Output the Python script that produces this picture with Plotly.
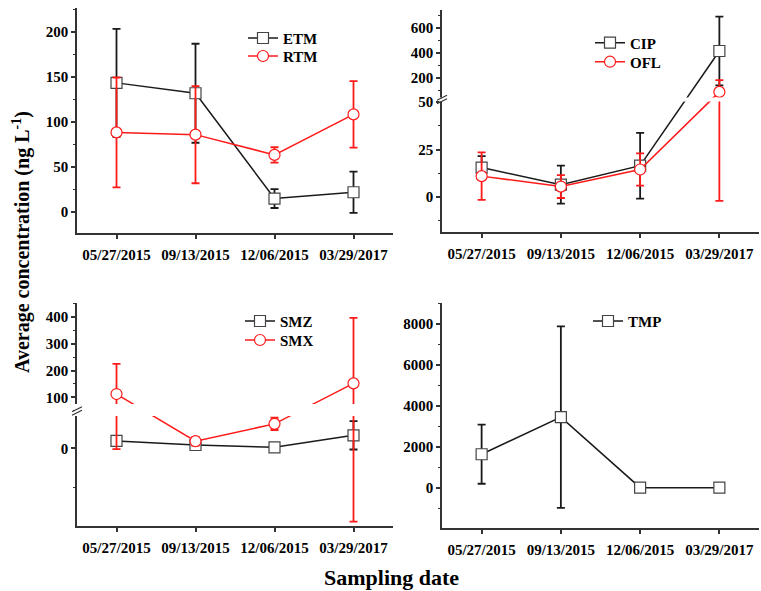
import plotly.graph_objects as go

# ---------------- data ----------------
dates = ["05/27/2015", "09/13/2015", "12/06/2015", "03/29/2017"]

etm = [143.5, 132, 15, 22]
etm_err = [60, 55, 10.5, 23]
rtm = [88.5, 86, 63.5, 108.5]
rtm_err = [61, 54, 8.5, 37]

cip = [15.5, 6.5, 16.5, 415]
cip_err = [6, 10, 17.3, 272]
ofl = [11, 5.5, 14.5, 91]
ofl_err = [12.5, 6, 8.5, 93]

smz = [9.3, 4.2, 1.3, 16.5]
smz_err = [4, 3, 3, 18]
smx = [112, 9, 31, 152]
smx_err = [113, 5.5, 7.8, 245]

tmp = [1630, 3440, 0, 0]
tmp_err = [1440, 4430, 120, 120]

# y-axis tick values (real units)
tl_ticks = [0, 50, 100, 150, 200]
tl_minor = [-12.5 * 0 + 25, 75, 125, 175, 225]
tr_ticks = [0, 25, 50, 200, 400, 600]
tr_minor = [-12.5, 12.5, 37.5, 100, 300, 500, 700]
bl_ticks = [0, 100, 200, 300, 400]
bl_minor = [-50, 50, 150, 250, 350, 450]
br_ticks = [0, 2000, 4000, 6000, 8000]
br_minor = [-1000, 1000, 3000, 5000, 7000, 9000]

# ---------------- broken-axis scales ----------------
# below the break the axis is linear; above it, compressed by factor k after a gap
TR_BRK, TR_GAP, TR_K = 50, 2.6, 0.0664
BL_BRK, BL_GAP, BL_K = 41, 3.8, 0.3388

def broken(v, brk, gap, k):
    return v if v <= brk else brk + gap + (v - brk) * k

def scaled(vals, errs, brk, gap, k):
    y = [broken(v, brk, gap, k) for v in vals]
    up = [broken(v + e, brk, gap, k) - broken(v, brk, gap, k) for v, e in zip(vals, errs)]
    dn = [broken(v, brk, gap, k) - broken(v - e, brk, gap, k) for v, e in zip(vals, errs)]
    return y, up, dn

# ---------------- layout helpers ----------------
W, H = 761, 591
def px(x):
    return x / W
def py(y):
    return 1 - y / H

BLACK = "#1a1a1a"
RED = "#ff1a1a"
AX = "#333333"
FONT = dict(family="Liberation Serif", size=15, color="black", weight="bold")

fig = go.Figure()

def add_series(x_id, y_id, y, up, dn, color, name, symbol, legend):
    fig.add_trace(go.Scatter(
        x=dates, y=y, name=name, mode="lines+markers",
        xaxis=x_id, yaxis=y_id,
        line=dict(color=color, width=1.5),
        marker=dict(symbol=symbol, size=11, color="white",
                    line=dict(color=("#444" if color == BLACK else color), width=1.2)),
        error_y=dict(type="data", symmetric=False, array=up, arrayminus=dn,
                     color=color, thickness=1.8, width=4),
        legend=legend, showlegend=True,
    ))

add_series("x", "y", etm, etm_err, etm_err, BLACK, "ETM", "square", "legend")
add_series("x", "y", rtm, rtm_err, rtm_err, RED, "RTM", "circle", "legend2")
add_series("x2", "y2", *scaled(cip, cip_err, TR_BRK, TR_GAP, TR_K), BLACK, "CIP", "square", "legend3")
add_series("x2", "y2", *scaled(ofl, ofl_err, TR_BRK, TR_GAP, TR_K), RED, "OFL", "circle", "legend4")
add_series("x3", "y3", *scaled(smz, smz_err, BL_BRK, BL_GAP, BL_K), BLACK, "SMZ", "square", "legend5")
add_series("x3", "y3", *scaled(smx, smx_err, BL_BRK, BL_GAP, BL_K), RED, "SMX", "circle", "legend6")
add_series("x4", "y4", tmp, tmp_err, tmp_err, BLACK, "TMP", "square", "legend7")

base = dict(showline=True, linecolor=AX, linewidth=1.5, ticks="outside",
            ticklen=4, tickwidth=1.5, tickcolor=AX, showgrid=False,
            zeroline=False, tickfont=FONT, automargin=False)
def minor(vals):
    return dict(ticks="outside", ticklen=2, tickwidth=1, tickcolor=AX,
                tickmode="array", tickvals=vals)

xbase = dict(base, type="category", range=[-0.5, 3.5], ticklabelstandoff=3)

L1, R1 = px(77), px(393)
L2, R2 = px(442), px(759)

tr = lambda v: broken(v, TR_BRK, TR_GAP, TR_K)
bl = lambda v: broken(v, BL_BRK, BL_GAP, BL_K)

fig.update_layout(
    template="none",
    width=W, height=H, margin=dict(l=0, r=0, t=0, b=0, pad=0),
    plot_bgcolor="white", paper_bgcolor="white", showlegend=True,
    xaxis=dict(xbase, domain=[L1, R1], anchor="y"),
    yaxis=dict(base, domain=[py(233), py(8)], range=[-23.3, 226.7],
               tickmode="array", tickvals=tl_ticks, anchor="x",
               minor=minor(tl_minor)),
    xaxis2=dict(xbase, domain=[L2, R2], anchor="y2"),
    yaxis2=dict(base, domain=[py(232), py(10)], range=[-18.4, tr(740)],
                tickmode="array", tickvals=[tr(v) for v in tr_ticks],
                ticktext=[str(v) for v in tr_ticks], anchor="x2",
                minor=minor([tr(v) for v in tr_minor])),
    xaxis3=dict(xbase, domain=[L1, R1], anchor="y3"),
    yaxis3=dict(base, domain=[py(526), py(303)], range=[-98.6, bl(453)],
                tickmode="array", tickvals=[bl(v) for v in bl_ticks],
                ticktext=[str(v) for v in bl_ticks], anchor="x3",
                minor=minor([bl(v) for v in bl_minor])),
    xaxis4=dict(xbase, domain=[L2, R2], anchor="y4"),
    yaxis4=dict(base, domain=[py(528), py(303)], range=[-1970, 9010],
                tickmode="array", tickvals=br_ticks, anchor="x4",
                minor=minor(br_minor)),
)

# one legend per entry so each sits where the reference shows it
leg = dict(xanchor="left", yanchor="top", bgcolor="rgba(0,0,0,0)", font=FONT,
           itemwidth=30, borderwidth=0)
legend_pos = {"legend": (243, 38), "legend2": (243, 56),
              "legend3": (590, 42.7), "legend4": (590, 61.7),
              "legend5": (240, 321), "legend6": (240, 340),
              "legend7": (588, 321)}
fig.update_layout({k: dict(leg, x=px(x), y=py(y - 16.25)) for k, (x, y) in legend_pos.items()})

# axis-break gaps and marks
shapes = [
    dict(type="rect", xref="paper", yref="y2", layer="above",
         x0=px(439), x1=px(761), y0=TR_BRK + 0.3, y1=TR_BRK + TR_GAP - 0.2,
         fillcolor="white", line=dict(width=0)),
    dict(type="rect", xref="paper", yref="paper", layer="above",
         x0=px(74), x1=px(400), y0=py(416), y1=py(404),
         fillcolor="white", line=dict(width=0)),
]
for (cx, cy) in [(442, 99.5), (77, 411)]:
    for dy in (-1.8, 1.8):
        shapes.append(dict(type="line", xref="paper", yref="paper", layer="above",
                           x0=px(cx - 5), y0=py(cy + 2.5 + dy),
                           x1=px(cx + 5), y1=py(cy - 2.5 + dy),
                           line=dict(color=AX, width=1.2)))
fig.update_layout(shapes=shapes)

fig.add_annotation(text="Average concentration (ng L<sup>-1</sup>)", textangle=-90,
                   x=px(21), y=py(242), xref="paper", yref="paper",
                   xanchor="center", yanchor="middle",
                   showarrow=False, font=dict(FONT, size=20))
fig.add_annotation(text="Sampling date", x=px(391), y=py(577), xref="paper",
                   yref="paper", xanchor="center", yanchor="middle",
                   showarrow=False, font=dict(FONT, size=22))

fig.write_html("out.html")
